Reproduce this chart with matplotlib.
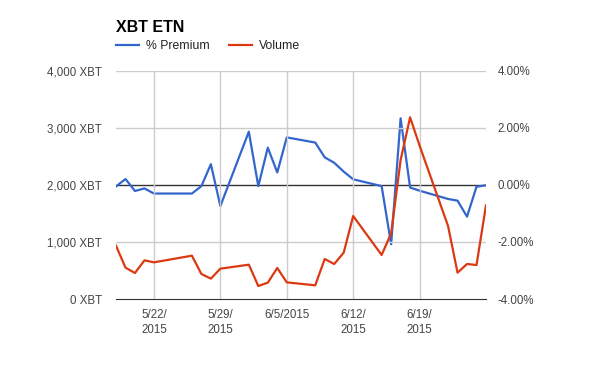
import datetime as dt
import matplotlib
matplotlib.use("Agg")
import matplotlib.pyplot as plt

plt.rcParams['font.family'] = ['Liberation Sans', 'DejaVu Sans']

# trading days shown in the chart
dates = ["2015-05-18", "2015-05-19", "2015-05-20", "2015-05-21", "2015-05-22",
         "2015-05-26", "2015-05-27", "2015-05-28", "2015-05-29",
         "2015-06-01", "2015-06-02", "2015-06-03", "2015-06-04", "2015-06-05",
         "2015-06-08", "2015-06-09", "2015-06-10", "2015-06-11", "2015-06-12",
         "2015-06-15", "2015-06-16", "2015-06-17", "2015-06-18", "2015-06-19",
         "2015-06-22", "2015-06-23", "2015-06-24", "2015-06-25", "2015-06-26"]

# % premium (right axis)
premium = [-0.05, 0.21, -0.21, -0.12, -0.30,
           -0.30, -0.04, 0.73, -0.74,
           1.87, -0.04, 1.31, 0.44, 1.67,
           1.49, 0.97, 0.78, 0.47, 0.20,
           -0.04, -2.08, 2.34, -0.09, -0.20,
           -0.49, -0.55, -1.11, -0.06, -0.01]

# volume in XBT (left axis)
volume = [935, 550, 456, 678, 643,
          760, 439, 357, 532,
          602, 228, 287, 544, 292,
          240, 702, 614, 813, 1456,
          772, 1152, 2439, 3187, 2690,
          1281, 462, 614, 596, 1643]

left_ticks = [0, 1000, 2000, 3000, 4000]
left_labels = ["0 XBT", "1,000 XBT", "2,000 XBT", "3,000 XBT", "4,000 XBT"]
right_ticks = [-4, -2, 0, 2, 4]
right_labels = ["-4.00%", "-2.00%", "0.00%", "2.00%", "4.00%"]
x_tick_dates = ["2015-05-22", "2015-05-29", "2015-06-05", "2015-06-12", "2015-06-19"]
x_tick_labels = ["5/22/\n2015", "5/29/\n2015", "6/5/2015", "6/12/\n2015", "6/19/\n2015"]

BLUE = "#3366cc"
RED = "#dc3912"
GRID = "#cccccc"
TXT = "#444444"

x = [dt.datetime.strptime(d, "%Y-%m-%d") for d in dates]
xt = [dt.datetime.strptime(d, "%Y-%m-%d") for d in x_tick_dates]

fig = plt.figure(figsize=(6, 3.71), dpi=100)
ax = fig.add_axes([116 / 600, 1 - 299 / 371, 370 / 600, 228 / 371])
ax2 = ax.twinx()

ax.set_xlim(x[0], x[-1])
ax.set_ylim(0, 4000)
ax2.set_ylim(-4, 4)

# grid
for t in xt:
    ax.axvline(t, color=GRID, lw=1, zorder=0)
for v in [1000, 3000, 4000]:
    ax.axhline(v, color=GRID, lw=1, zorder=0)
ax2.axhline(0, color="#333333", lw=1, zorder=1)

ax2.plot(x, premium, color=BLUE, lw=1.6, zorder=3, label="% Premium")
ax.plot(x, volume, color=RED, lw=1.6, zorder=3, label="Volume")

ax.set_zorder(ax2.get_zorder() + 1)
ax.patch.set_visible(False)

for a in (ax, ax2):
    for s in ["top", "left", "right", "bottom"]:
        a.spines[s].set_visible(False)
ax.spines["bottom"].set_visible(True)
ax.spines["bottom"].set_color("#333333")

ax.set_yticks(left_ticks)
ax.set_yticklabels(left_labels)
ax2.set_yticks(right_ticks)
ax2.set_yticklabels(right_labels)
ax.set_xticks(xt)
ax.set_xticklabels(x_tick_labels, linespacing=1.4)
ax.tick_params(axis="y", length=0, pad=10, labelsize=8.3, labelcolor=TXT)
ax2.tick_params(axis="y", length=0, pad=8.5, labelsize=8.3, labelcolor=TXT)
ax.tick_params(axis="x", length=0, pad=7, labelsize=8.3, labelcolor=TXT)

fig.text(116 / 600, 1 - 32 / 371, "XBT ETN", fontsize=11.5, fontweight="bold",
         color="black", ha="left", va="baseline")

h1, l1 = ax2.get_legend_handles_labels()
h2, l2 = ax.get_legend_handles_labels()
fig.legend(h1 + h2, l1 + l2, loc="center left",
           bbox_to_anchor=(105 / 600, 1 - 46 / 371), ncol=2, frameon=False,
           fontsize=8.8, handlelength=1.9, handletextpad=0.55, columnspacing=1.6,
           labelcolor="#222222")

fig.savefig("out.png", dpi=100)
